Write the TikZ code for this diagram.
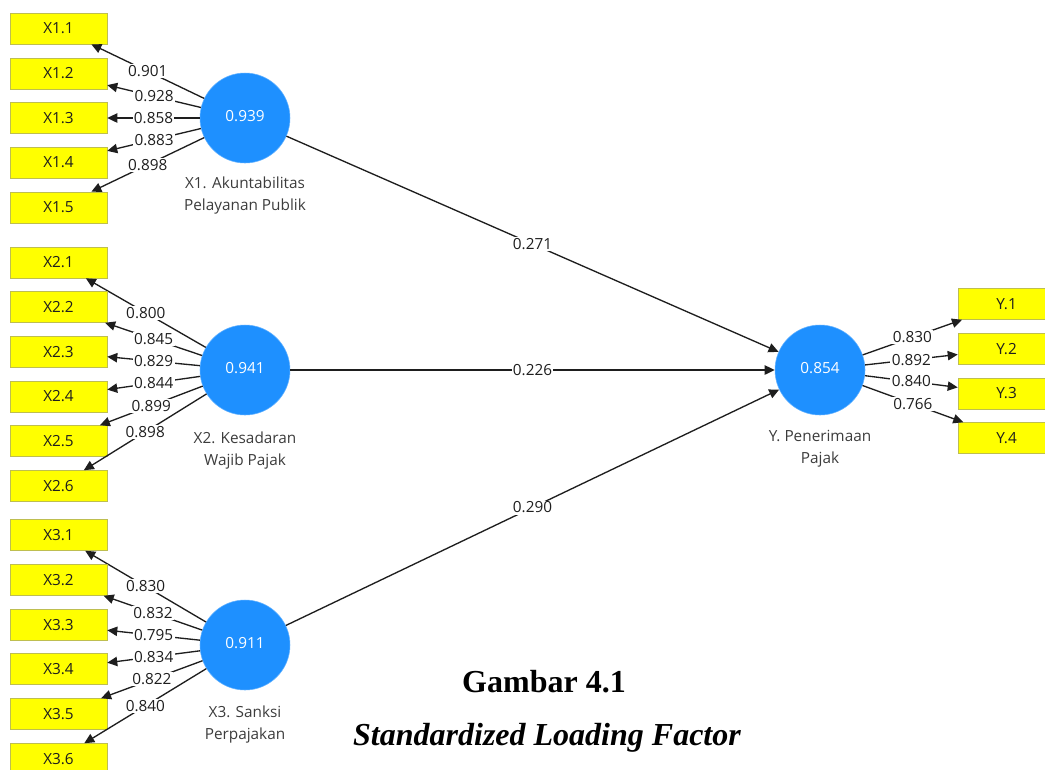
\documentclass[tikz,border=0pt]{standalone}
\usepackage{fontspec}
\setmainfont{Open Sans}
\newfontfamily\capfont{Liberation Serif}
\usetikzlibrary{arrows.meta}
\definecolor{plsblue}{RGB}{30,144,255}
\definecolor{plsyellow}{RGB}{255,255,0}
\definecolor{boxline}{RGB}{190,190,80}
\definecolor{ink}{RGB}{30,30,30}
\definecolor{graytext}{RGB}{60,60,60}
\tikzset{
  >={Triangle[length=7.5pt,width=7pt]},
  ind/.style={draw=boxline,fill=plsyellow,minimum width=72.75pt,minimum height=23.25pt,
    inner sep=0pt,text=ink,font=\fontsize{11.5}{13}\selectfont},
  lv/.style={circle,fill=plsblue,draw=plsblue!70!white,minimum size=67.5pt,inner sep=0pt,
    text=white,font=\fontsize{11.5}{13}\selectfont},
  ld/.style={->,draw=ink,line width=1pt},
  val/.style={fill=white,inner sep=1pt,text=ink,font=\fontsize{11.5}{13}\selectfont},
  lvlabel/.style={align=center,text=graytext,font=\fontsize{11.5}{16.5}\selectfont},
}
\begin{document}
\begin{tikzpicture}[x=0.75pt,y=-0.75pt]
  \useasboundingbox (0,0) rectangle (1045,769);
  % latent variables
  \node[lv] (x1) at (245,118) {\raisebox{2.5pt}{0.939}};
  \node[lv] (x2) at (245,370) {\raisebox{2.5pt}{0.941}};
  \node[lv] (x3) at (245,645) {\raisebox{2.5pt}{0.911}};
  \node[lv] (y) at (820,370) {\raisebox{2.5pt}{0.854}};
  \node[lvlabel] (x1lab) at (245,196) {X1. Akuntabilitas\\Pelayanan Publik};
  \node[lvlabel] (x2lab) at (245,451) {X2. Kesadaran\\Wajib Pajak};
  \node[lvlabel] (x3lab) at (245,724) {X3. Sanksi\\Perpajakan};
  \node[lvlabel] (ylab) at (820,449) {Y. Penerimaan\\Pajak};
  % indicators
  \foreach \i/\y/\v in {1/28.5/0.901,2/73.5/0.928,3/118/0.858,4/162.5/0.883,5/207.5/0.898}
    {\node[ind] (x1-\i) at (58.5,\y) {X1.\i}; \draw[ld] (x1) -- node[val] {\v} (x1-\i);}
  \foreach \i/\y/\v in {1/262.5/0.800,2/307/0.845,3/352/0.829,4/396.5/0.844,5/441/0.899,6/486/0.898}
    {\node[ind] (x2-\i) at (58.5,\y) {X2.\i}; \draw[ld] (x2) -- node[val] {\v} (x2-\i);}
  \foreach \i/\y/\v in {1/535/0.830,2/580/0.832,3/625/0.795,4/669/0.834,5/714/0.822,6/759/0.840}
    {\node[ind] (x3-\i) at (58.5,\y) {X3.\i}; \draw[ld] (x3) -- node[val] {\v} (x3-\i);}
  \foreach \i/\y/\v in {1/304/0.830,2/349/0.892,3/393.5/0.840,4/438/0.766}
    {\node[ind] (y-\i) at (1006.5,\y) {Y.\i}; \draw[ld] (y) -- node[val] {\v} (y-\i);}
  % paths
  \draw[ld] (x1) -- node[val] {0.271} (y);
  \draw[ld] (x2) -- node[val] {0.226} (y);
  \draw[ld] (x3) -- node[val] {0.290} (y);
  % caption
  \node[font=\capfont\bfseries\fontsize{24}{28}\selectfont] (title) at (544,682) {Gambar 4.1};
  \node[font=\capfont\bfseries\itshape\fontsize{24}{28}\selectfont] (subtitle) at (547,738) {Standardized Loading Factor};
\end{tikzpicture}
\end{document}
